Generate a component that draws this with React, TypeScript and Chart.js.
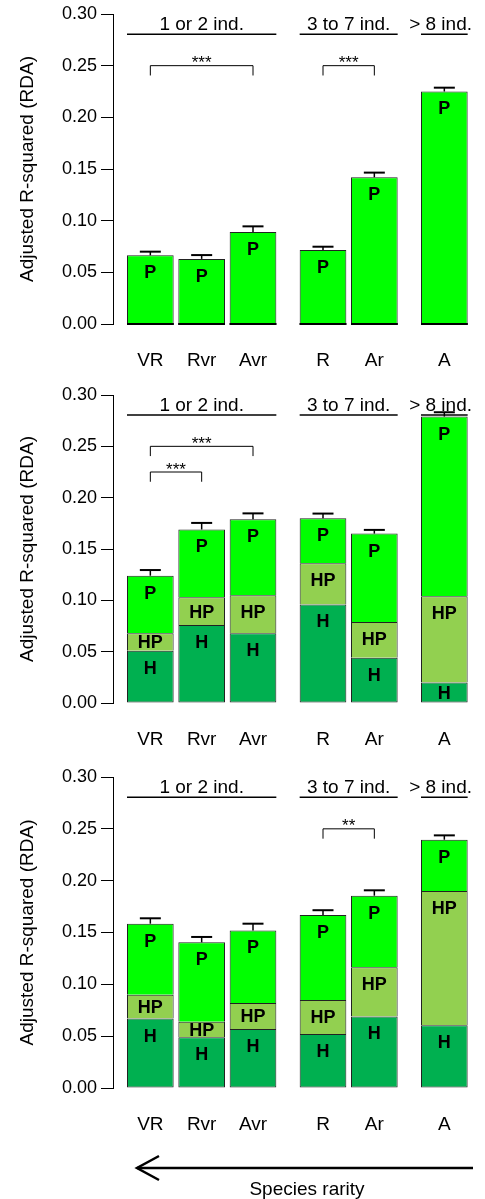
import React, { useEffect, useRef } from 'react';
import { Chart, registerables } from 'chart.js';

Chart.register(...registerables);

const FONT = "'Liberation Sans', Arial, Helvetica, sans-serif";
Chart.defaults.font.family = FONT;

// ---------- data ----------
const categories = ['VR', 'Rvr', 'Avr', 'R', 'Ar', 'A'];
const groupOfCategory = [0, 0, 0, 1, 1, 2];
const groupLabels = ['1 or 2 ind.', '3 to 7 ind.', '> 8 ind.'];
const segmentLabels = ['H', 'HP', 'P'];
const yTicks = [0, 0.05, 0.1, 0.15, 0.2, 0.25, 0.3];
const yTitle = 'Adjusted R-squared (RDA)';
const rarityLabel = 'Species rarity';

// Panel 1
const p1H = [0, 0, 0, 0, 0, 0];
const p1HP = [0, 0, 0, 0, 0, 0];
const p1P = [0.0665, 0.063, 0.089, 0.0716, 0.142, 0.225];
const p1Err = [0.0035, 0.0037, 0.0055, 0.0032, 0.0045, 0.0037];
const p1Sig: [number, number, number, string][] = [
  [0, 2, 0.25, '***'],
  [3, 4, 0.25, '***'],
];

// Panel 2
const p2H = [0.051, 0.076, 0.068, 0.096, 0.044, 0.02];
const p2HP = [0.017, 0.027, 0.037, 0.04, 0.035, 0.084];
const p2P = [0.056, 0.066, 0.074, 0.044, 0.086, 0.175];
const p2Err = [0.0055, 0.0064, 0.0057, 0.0045, 0.0036, 0.0042];
const p2Sig: [number, number, number, string][] = [
  [0, 2, 0.25, '***'],
  [0, 1, 0.225, '***'],
];

// Panel 3
const p3H = [0.067, 0.049, 0.057, 0.052, 0.069, 0.0605];
const p3HP = [0.023, 0.015, 0.025, 0.033, 0.0475, 0.1295];
const p3P = [0.0685, 0.0765, 0.07, 0.082, 0.069, 0.0495];
const p3Err = [0.0052, 0.0052, 0.0065, 0.0045, 0.0052, 0.0042];
const p3Sig: [number, number, number, string][] = [[3, 4, 0.25, '**']];

// ---------- style / layout ----------
const segColors = ['#00B050', '#92D050', '#00FF00'];
const borderCol = '#222222';
const INNER_SPACE = 0.1;
const GROUP_SPACE = 0.5;
const HEADER_LEVEL = 0.2805;
const BRACKET_DROP = 0.0095;

type Panel = {
  H: number[];
  HP: number[];
  P: number[];
  err: number[];
  sig: [number, number, number, string][];
  top: number;
  height: number;
};

const panels: Panel[] = [
  { H: p1H, HP: p1HP, P: p1P, err: p1Err, sig: p1Sig, top: -11, height: 380 },
  { H: p2H, HP: p2HP, P: p2P, err: p2Err, sig: p2Sig, top: 370, height: 378 },
  { H: p3H, HP: p3HP, P: p3P, err: p3Err, sig: p3Sig, top: 752, height: 381 },
];

function barCenters(): number[] {
  const out: number[] = [];
  let pos = 0;
  categories.forEach((_, i) => {
    const space = i > 0 && groupOfCategory[i] !== groupOfCategory[i - 1] ? GROUP_SPACE : INNER_SPACE;
    const left = pos + space;
    out.push(left + 0.5);
    pos = left + 1;
  });
  return out;
}
const xPos = barCenters();

function makePlugin(panel: Panel) {
  return {
    id: 'annot',
    afterDatasetsDraw(chart: any) {
      const { ctx, scales } = chart;
      const x = scales.x;
      const y = scales.y;
      ctx.save();

      // zero-height segments -> line at base (as in R barplot)
      chart.data.datasets.forEach((ds: any, di: number) => {
        const meta = chart.getDatasetMeta(di);
        meta.data.forEach((el: any, i: number) => {
          const v = ds.data[i].y;
          if (v === 0) {
            ctx.strokeStyle = '#000';
            ctx.lineWidth = 2;
            ctx.beginPath();
            ctx.moveTo(el.x - el.width / 2, el.y);
            ctx.lineTo(el.x + el.width / 2, el.y);
            ctx.stroke();
          }
        });
      });

      // segment labels
      ctx.fillStyle = '#000';
      ctx.font = `bold 18px ${FONT}`;
      ctx.textAlign = 'center';
      ctx.textBaseline = 'middle';
      chart.data.datasets.forEach((ds: any, di: number) => {
        const meta = chart.getDatasetMeta(di);
        meta.data.forEach((el: any, i: number) => {
          const v = ds.data[i].y;
          if (v > 0) {
            const h = el.base - el.y;
            const ly = el.y + Math.min(18, h / 2 + 1.5);
            ctx.fillText(segmentLabels[di], el.x, ly);
          }
        });
      });

      // error bars
      const barW = chart.getDatasetMeta(2).data[0].width;
      categories.forEach((_, i) => {
        const total = panel.H[i] + panel.HP[i] + panel.P[i];
        const px = x.getPixelForValue(xPos[i]);
        const y0 = y.getPixelForValue(total);
        const y1 = y.getPixelForValue(total + panel.err[i]);
        ctx.strokeStyle = '#000';
        ctx.lineWidth = 1.5;
        ctx.beginPath();
        ctx.moveTo(px, y0);
        ctx.lineTo(px, y1);
        ctx.stroke();
        ctx.lineWidth = 2;
        ctx.beginPath();
        ctx.moveTo(px - 10.5, y1);
        ctx.lineTo(px + 10.5, y1);
        ctx.stroke();
      });

      // group headers
      groupLabels.forEach((label, g) => {
        const idx = categories.map((_, i) => i).filter((i) => groupOfCategory[i] === g);
        const left = x.getPixelForValue(xPos[idx[0]]) - barW / 2;
        const right = x.getPixelForValue(xPos[idx[idx.length - 1]]) + barW / 2;
        const ly = y.getPixelForValue(HEADER_LEVEL);
        ctx.strokeStyle = '#000';
        ctx.lineWidth = 1.5;
        ctx.beginPath();
        ctx.moveTo(left, ly);
        ctx.lineTo(right, ly);
        ctx.stroke();
        ctx.font = `19px ${FONT}`;
        ctx.textBaseline = 'alphabetic';
        const w = ctx.measureText(label).width;
        let cx = (left + right) / 2;
        const maxRight = chart.width - 13;
        if (cx + w / 2 > maxRight) cx = maxRight - w / 2;
        ctx.textAlign = 'center';
        ctx.fillText(label, cx, ly - 4);
      });

      // significance brackets
      panel.sig.forEach(([a, b, lvl, txt]) => {
        const xa = x.getPixelForValue(xPos[a]);
        const xb = x.getPixelForValue(xPos[b]);
        const yl = y.getPixelForValue(lvl);
        const yd = y.getPixelForValue(lvl - BRACKET_DROP);
        ctx.strokeStyle = '#000';
        ctx.lineWidth = 1;
        ctx.beginPath();
        ctx.moveTo(xa, yd);
        ctx.lineTo(xa, yl);
        ctx.lineTo(xb, yl);
        ctx.lineTo(xb, yd);
        ctx.stroke();
        ctx.font = `17px ${FONT}`;
        ctx.textAlign = 'center';
        ctx.textBaseline = 'alphabetic';
        ctx.fillText(txt, (xa + xb) / 2, yl + 2.5);
      });

      ctx.restore();
    },
  };
}

function PanelChart({ panel }: { panel: Panel }) {
  const ref = useRef<HTMLCanvasElement>(null);
  useEffect(() => {
    const segs = [panel.H, panel.HP, panel.P];
    const chart = new Chart(ref.current as HTMLCanvasElement, {
      type: 'bar',
      data: {
        datasets: segs.map((vals, si) => ({
          label: segmentLabels[si],
          data: vals.map((v, i) => ({ x: xPos[i], y: v })),
          backgroundColor: segColors[si],
          borderColor: borderCol,
          borderWidth: 1,
          borderSkipped: si === 0 ? false : 'start',
          barPercentage: 1 / (1 + INNER_SPACE),
          categoryPercentage: 1,
        })) as any,
      },
      options: {
        animation: false,
        responsive: false,
        devicePixelRatio: 1,
        events: [],
        layout: { padding: { top: 25, left: 0, right: 8, bottom: 0 } },
        plugins: { legend: { display: false }, tooltip: { enabled: false } },
        scales: {
          x: {
            type: 'linear',
            offset: false,
            stacked: true,
            min: -0.2,
            max: 7.6,
            grid: { display: false, offset: false },
            border: { display: false },
            afterBuildTicks: (s: any) => {
              s.ticks = xPos.map((v) => ({ value: v }));
            },
            afterFit: (s: any) => {
              s.height = 45;
            },
            ticks: {
              autoSkip: false,
              maxRotation: 0,
              padding: 17,
              color: '#000',
              font: { size: 19, family: FONT },
              callback: (_v: any, i: number) => categories[i],
            },
          },
          y: {
            type: 'linear',
            stacked: true,
            min: 0,
            max: 0.3,
            afterBuildTicks: (s: any) => {
              s.ticks = yTicks.map((v) => ({ value: v }));
            },
            afterFit: (s: any) => {
              s.width = 113;
            },
            ticks: {
              padding: 4,
              color: '#000',
              font: { size: 18, family: FONT },
              callback: (v: any) => Number(v).toFixed(2),
            },
            grid: {
              drawOnChartArea: false,
              drawTicks: true,
              tickLength: 12,
              tickColor: '#000',
              tickWidth: 1,
            },
            border: { display: true, color: '#000', width: 1 },
            title: {
              display: true,
              text: yTitle,
              color: '#000',
              font: { size: 19, family: FONT },
              padding: { top: 16, bottom: 0 },
            },
          },
        },
      } as any,
      plugins: [makePlugin(panel) as any],
    });
    return () => chart.destroy();
  }, [panel]);
  return (
    <canvas
      ref={ref}
      width={485}
      height={panel.height}
      style={{ position: 'absolute', left: 0, top: panel.top, width: 485, height: panel.height, display: 'block' }}
    />
  );
}

export default function App() {
  return (
    <div style={{ position: 'absolute', left: 0, top: 0, width: 485, height: 1199, overflow: 'hidden', background: '#fff' }}>
      {panels.map((p, i) => (
        <PanelChart key={i} panel={p} />
      ))}
      <svg
        width={485}
        height={70}
        style={{ position: 'absolute', left: 0, top: 1129 }}
        viewBox="0 1129 485 70"
      >
        <line x1={137} y1={1168} x2={473} y2={1168} stroke="#000" strokeWidth={2.5} />
        <polyline points="159,1156 137,1168 159,1180" fill="none" stroke="#000" strokeWidth={2.5} />
        <text x={307} y={1195} textAnchor="middle" fontFamily={FONT} fontSize={19} fill="#000">
          {rarityLabel}
        </text>
      </svg>
    </div>
  );
}
